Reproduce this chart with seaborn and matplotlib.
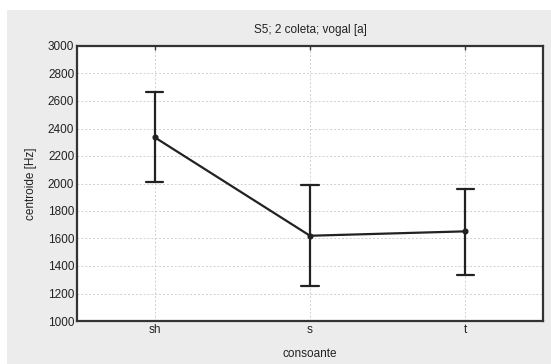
import matplotlib
matplotlib.use("Agg")
import matplotlib.pyplot as plt
from matplotlib.patches import Rectangle
import seaborn as sns
import pandas as pd

categories = ["sh", "s", "t"]
means = [2336, 1620, 1652]
lower = [2009, 1255, 1332]
upper = [2668, 1991, 1962]
yticks = [1000, 1200, 1400, 1600, 1800, 2000, 2200, 2400, 2600, 2800, 3000]

rows = []
for c, lo, m, hi in zip(categories, lower, means, upper):
    for v in (lo, m, hi):
        rows.append({"consoante": c, "centroide": v})
df = pd.DataFrame(rows)

sns.set_style("white")
plt.rcParams["font.family"] = ["Liberation Sans", "DejaVu Sans"]

W, H = 551, 364
fig = plt.figure(figsize=(W / 100, H / 100), dpi=100, facecolor="white")
fig.patches.append(Rectangle((7 / W, 0), 1 - 7 / W, (H - 10) / H,
                             transform=fig.transFigure, facecolor="#ececec",
                             edgecolor="none", zorder=-10))
ax = fig.add_axes([77 / W, (H - 321) / H, (543 - 77) / W, (321 - 46) / H])
ax.set_facecolor("white")

sns.pointplot(data=df, x="consoante", y="centroide", order=categories,
              estimator="median", errorbar=("pi", 100), capsize=0.11,
              color="#222222", markers="o", markersize=3.2, linewidth=1.6,
              err_kws={"linewidth": 1.6}, ax=ax)

ax.set_xlim(-0.5, 2.5)
ax.set_ylim(1000, 3000)
ax.set_yticks(yticks)
ax.set_yticklabels([str(t) for t in yticks])
ax.grid(True, linestyle=(0, (2, 2)), color="#cfcfcf", linewidth=0.7)
ax.set_axisbelow(True)
for s in ax.spines.values():
    s.set_visible(True)
    s.set_color("#333333")
    s.set_linewidth(1.6)
ax.tick_params(axis="both", direction="in", length=3, width=1, color="#333333",
               labelsize=8.5, labelcolor="#222222", pad=2, top=True, right=False)
ax.set_xlabel("consoante", fontsize=8.5, color="#222222", labelpad=9)
ax.set_ylabel("centroide [Hz]", fontsize=8.5, color="#222222", labelpad=8)
ax.set_title("S5; 2 coleta; vogal [a]", fontsize=8.5, color="#222222", pad=9)

fig.savefig("out.png", dpi=100, facecolor="white")
